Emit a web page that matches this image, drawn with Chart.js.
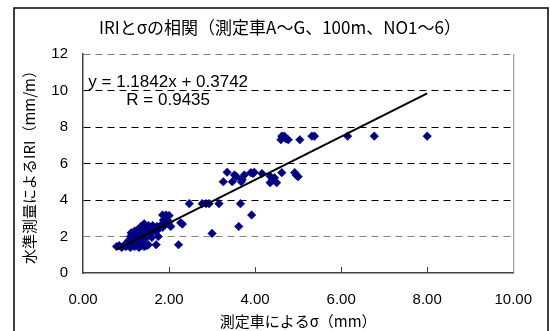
<!DOCTYPE html>
<html>
<head>
<meta charset="utf-8">
<script src="https://cdn.jsdelivr.net/npm/chart.js@4/dist/chart.umd.min.js"></script>
<style>
  html, body { margin: 0; padding: 0; background: #fff; }
  #wrap { width: 550px; height: 331px; }
</style>
</head>
<body>
<div id="wrap"><canvas id="iriChart" width="550" height="331"></canvas></div>
<script>
// σ by survey vehicle (mm) vs IRI from levelling (mm/m)
const sigmaX = [
  8.00, 6.77, 6.15, 5.32, 5.38, 5.04, 4.60, 4.64, 4.68, 4.72, 4.77, 4.62,
  3.35, 3.26, 3.47, 3.52, 3.57, 3.68, 3.70, 3.75, 3.90, 3.95, 3.98, 4.16,
  4.35, 4.40, 4.45, 4.35, 4.50, 4.62, 4.92, 4.96, 5.00,
  2.47, 2.77, 2.86, 2.93, 3.16, 3.66, 3.92, 3.62, 3.00, 2.27, 2.31, 2.22, 1.70,
  1.85, 1.93, 2.00, 1.87, 1.95, 2.04,
  0.78, 0.84, 0.90, 0.95, 1.00, 1.06, 1.10, 1.15, 1.20, 1.26, 1.30, 1.35, 1.42, 1.48, 1.52,
  1.05, 1.10, 1.12, 1.15, 1.20, 1.22, 1.25, 1.28, 1.30, 1.32, 1.35, 1.38, 1.40, 1.42,
  1.45, 1.48, 1.50, 1.52, 1.55, 1.58, 1.60, 1.62, 1.65, 1.70, 1.72, 1.75, 1.78, 1.80,
  1.85, 1.90, 1.95, 2.00, 1.20, 1.30, 1.40, 1.60
];
const iriY = [
  7.50, 7.50, 7.50, 7.50, 7.50, 7.30, 7.30, 7.45, 7.50, 7.35, 7.30, 7.50,
  5.52, 5.00, 5.00, 5.37, 5.28, 5.00, 5.13, 5.37, 5.50, 5.45, 5.52, 5.45,
  5.30, 5.10, 5.22, 4.95, 4.95, 5.50, 5.50, 5.35, 5.28,
  3.80, 3.80, 3.80, 3.80, 3.80, 3.80, 3.18, 2.55, 2.17, 2.75, 2.68, 1.55, 1.55,
  3.18, 3.18, 3.15, 2.90, 2.92, 2.55,
  1.45, 1.50, 1.40, 1.50, 1.45, 1.55, 1.40, 1.50, 1.45, 1.55, 1.40, 1.50, 1.45, 1.50, 1.55,
  1.75, 2.00, 2.20, 1.90, 2.30, 2.10, 1.85, 2.40, 2.20, 2.00, 2.55, 2.30, 2.10, 2.70,
  2.45, 2.20, 2.00, 2.60, 2.35, 2.50, 2.20, 2.60, 2.40, 2.30, 2.55, 2.00, 2.45, 2.60,
  2.50, 2.65, 2.70, 2.80, 1.60, 1.70, 1.80, 1.95
];

// linear trendline as printed on the chart
const slope = 1.1842;
const intercept = 0.3742;
const rValue = 0.9435;

const xTicks = [0, 2, 4, 6, 8, 10];
const yTicks = [0, 2, 4, 6, 8, 10, 12];

const chartTitle = 'IRIとσの相関（測定車A～G、100m、NO1～6）';
const xTitle = '測定車によるσ（mm）';
const yTitle = '水準測量によるIRI（mm/m）';

const jpFont = "'Noto Sans CJK JP', 'Noto Sans', sans-serif";
const numFont = "'Liberation Sans', Arial, sans-serif";

const points = sigmaX.map((x, i) => ({ x: x, y: iriY[i] }));
const xMin = Math.min(...sigmaX);
const xMax = Math.max(...sigmaX);
const trend = [
  { x: xMin, y: slope * xMin + intercept },
  { x: xMax, y: slope * xMax + intercept }
];

// outer frame, title, right border, inside x ticks, regression text
const decorations = {
  id: 'decorations',
  beforeDraw(chart) {
    const c = chart.ctx;
    c.save();
    c.fillStyle = '#fff';
    c.fillRect(0, 0, chart.width, chart.height);
    c.strokeStyle = '#000';
    c.lineWidth = 1.5;
    c.strokeRect(14, 8, 534, 400);
    c.fillStyle = '#000';
    c.font = '17px ' + jpFont;
    c.textAlign = 'center';
    c.textBaseline = 'middle';
    c.fillText(chartTitle, 280, 28);
    c.restore();
  },
  afterDraw(chart) {
    const c = chart.ctx;
    const a = chart.chartArea;
    const xs = chart.scales.x;
    const ys = chart.scales.y;
    c.save();
    c.strokeStyle = '#888';
    c.lineWidth = 1;
    c.beginPath();
    c.moveTo(a.right + 0.5, a.top);
    c.lineTo(a.right + 0.5, a.bottom);
    c.stroke();
    c.strokeStyle = '#404040';
    c.beginPath();
    xTicks.slice(1, -1).forEach(v => {
      const px = Math.round(xs.getPixelForValue(v)) + 0.5;
      c.moveTo(px, a.bottom);
      c.lineTo(px, a.bottom - 6);
    });
    c.stroke();
    c.fillStyle = '#000';
    c.font = '17px ' + numFont;
    c.textAlign = 'center';
    c.textBaseline = 'middle';
    const tx = xs.getPixelForValue(1.98);
    c.fillText('y = ' + slope.toFixed(4) + 'x + ' + intercept.toFixed(4), tx, ys.getPixelForValue(10.45));
    c.fillText('R = ' + rValue.toFixed(4), tx, ys.getPixelForValue(9.45));
    c.restore();
  }
};

new Chart(document.getElementById('iriChart'), {
  type: 'scatter',
  plugins: [decorations],
  data: {
    datasets: [
      {
        type: 'line',
        data: trend,
        borderColor: '#000',
        borderWidth: 2,
        pointRadius: 0,
        fill: false,
        order: 0
      },
      {
        data: points,
        pointStyle: 'rectRot',
        pointRadius: 4.3,
        backgroundColor: '#000080',
        borderColor: '#000080',
        borderWidth: 0.5,
        order: 1
      }
    ]
  },
  options: {
    responsive: false,
    animation: false,
    events: [],
    layout: { padding: { top: 54, left: 14, right: 33, bottom: 0 } },
    plugins: {
      legend: { display: false },
      tooltip: { enabled: false },
      title: { display: false }
    },
    scales: {
      x: {
        type: 'linear',
        min: 0,
        max: 10,
        afterBuildTicks: s => { s.ticks = xTicks.map(v => ({ value: v })); },
        afterFit: s => { s.height = 58; },
        grid: { display: false, drawTicks: false },
        border: { display: true, color: '#404040', width: 1.5 },
        ticks: {
          color: '#000',
          padding: 18,
          maxRotation: 0,
          font: { family: numFont, size: 15 },
          callback: v => v.toFixed(2)
        },
        title: {
          display: true,
          text: xTitle,
          color: '#000',
          font: { family: jpFont, size: 15 },
          padding: { top: 0, bottom: 1 }
        }
      },
      y: {
        type: 'linear',
        min: 0,
        max: 12,
        afterBuildTicks: s => { s.ticks = yTicks.map(v => ({ value: v })); },
        afterFit: s => { s.width = 69; },
        grid: {
          drawTicks: false,
          lineWidth: 1,
          color: c => {
            const v = c.tick.value;
            if (v === 0) return 'rgba(0,0,0,0)';
            if (v === 2 || v === 12) return '#808080';
            return '#000';
          }
        },
        border: { display: true, color: '#404040', width: 1.5, dash: [7, 5] },
        ticks: {
          color: '#000',
          padding: 15,
          font: { family: numFont, size: 15 }
        },
        title: {
          display: true,
          text: yTitle,
          color: '#000',
          font: { family: jpFont, size: 15 },
          padding: { top: 6, bottom: 0 }
        }
      }
    }
  }
});
</script>
</body>
</html>
